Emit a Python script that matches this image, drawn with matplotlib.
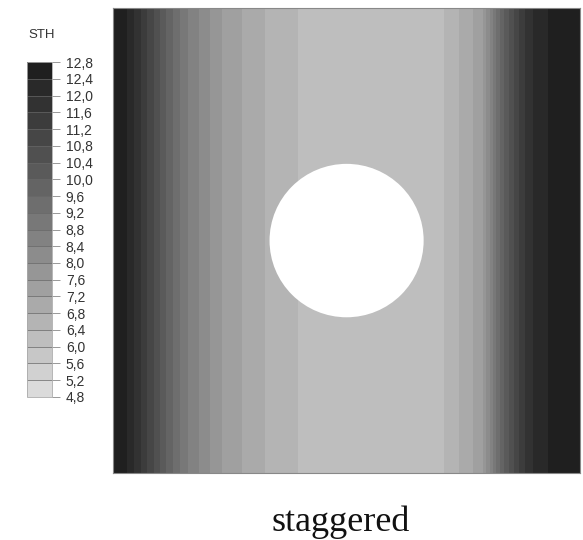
import numpy as np
import matplotlib
matplotlib.use('Agg')
import matplotlib.pyplot as plt
from matplotlib.colors import ListedColormap, BoundaryNorm
from matplotlib.patches import Circle

plt.rcParams['font.family'] = 'Liberation Sans'

# STH profile across the plate, x as fraction of width
x_pos = [0.00, 0.03, 0.06, 0.10, 0.15, 0.20, 0.24, 0.30, 0.35, 0.42,
         0.50, 0.60, 0.70, 0.75, 0.79, 0.83, 0.86, 0.89, 0.94, 1.00]
sth = [12.8, 12.4, 11.6, 10.4, 9.0, 8.1, 7.5, 7.0, 6.6, 6.3,
       6.2, 6.2, 6.3, 6.9, 7.5, 9.7, 10.9, 11.9, 12.5, 12.8]
y_pos = [0.0, 1.0]

# hole
hole_x, hole_y, hole_r = 0.5, 0.5, 0.165

levels = np.round(np.arange(4.8, 12.81, 0.4), 1)

# 20 grey bands, light at the bottom, dark at the top
greys = np.linspace(0.86, 0.12, len(levels) - 1)
cmap = ListedColormap([(g, g, g) for g in greys])
norm = BoundaryNorm(levels, cmap.N)

X, Y = np.meshgrid(x_pos, y_pos)
Z = np.tile(sth, (len(y_pos), 1))

fig = plt.figure(figsize=(5.83, 5.4), dpi=100)
ax = fig.add_axes([0.194, 0.124, 0.801, 0.861])
ax.contourf(X, Y, Z, levels=levels, cmap=cmap, norm=norm)
ax.add_patch(Circle((hole_x, hole_y), hole_r, facecolor='white', edgecolor='none', zorder=5))
ax.set_xlim(0, 1)
ax.set_ylim(0, 1)
ax.set_xticks([])
ax.set_yticks([])
for s in ax.spines.values():
    s.set_color('#888888')
    s.set_linewidth(0.8)

# colorbar on the left
cax = fig.add_axes([0.046, 0.265, 0.043, 0.620])
sm = plt.cm.ScalarMappable(norm=norm, cmap=cmap)
cb = fig.colorbar(sm, cax=cax, ticks=levels, drawedges=True)
cb.outline.set_edgecolor('#aaaaaa')
cb.outline.set_linewidth(0.6)
cb.dividers.set_color('#666666')
cb.dividers.set_linewidth(0.5)
cb.set_ticklabels([f'{v:.1f}'.replace('.', ',') for v in levels])
cax.tick_params(direction='out', length=6, width=0.6, color='#888888',
                labelsize=10, labelcolor='#333333', pad=4)
fig.text(0.048, 0.935, 'STH', fontsize=9.5, color='#333333', ha='left', va='center')

fig.text(0.585, 0.017, 'staggered', fontsize=26, family='Liberation Serif',
         ha='center', va='baseline', color='#111111')

fig.savefig('out.png', dpi=100)
